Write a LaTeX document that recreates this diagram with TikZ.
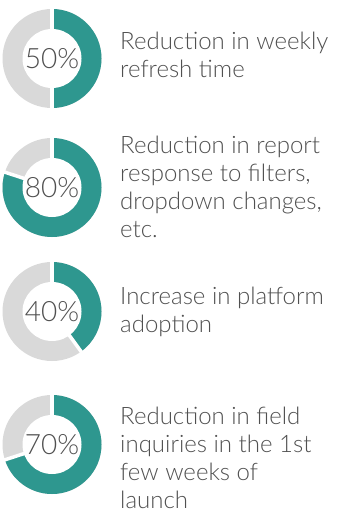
\documentclass[tikz,border=0pt]{standalone}
\usepackage{fontspec}
\setmainfont{Lato Light}
\definecolor{ringteal}{HTML}{2E978F}
\definecolor{ringgray}{HTML}{D9D9D9}
\definecolor{txtgray}{HTML}{505050}
\begin{document}
\begin{tikzpicture}[x=1pt,y=1pt,
  gapline/.style={draw=white,line width=3.5pt},
  pct/.style={text=txtgray,font=\fontsize{28}{30}\selectfont,inner sep=0pt},
  desc/.style={text=txtgray,font=\fontsize{24}{28}\selectfont,align=left,anchor=base west,inner sep=0pt}]
\useasboundingbox[fill=white] (0,0) rectangle (340,-513);
\newcommand{\donut}[3]{% name, center, end angle
  \coordinate (#1) at #2;
  \fill[ringgray] (#1) circle[radius=49.5];
  \fill[ringteal] (#1) -- ++(90:49.5) arc[start angle=90, end angle=#3, radius=49.5] -- cycle;
  \fill[white] (#1) circle[radius=29.5];
  \draw[gapline] (#1) -- ++(90:52);
  \draw[gapline] (#1) -- ++(#3:52);
}
\donut{d1}{(52,-58.5)}{-90}
\donut{d2}{(52,-187.5)}{-198}
\donut{d3}{(52,-311.5)}{-54}
\donut{d4}{(52,-444.5)}{-162}
\node[pct] (p1) at (d1) {50\%};
\node[pct] (p2) at (d2) {80\%};
\node[pct] (p3) at (d3) {40\%};
\node[pct] (p4) at (d4) {70\%};
\node[desc] (t1) at (120,-77.5) {Reduction in weekly\\refresh time};
\node[desc] (t2) at (120,-237) {Reduction in report\\response to filters,\\dropdown changes,\\etc.};
\node[desc] (t3) at (120,-332.5) {Increase in platform\\adoption};
\node[desc] (t4) at (120,-508.5) {Reduction in field\\inquiries in the 1st\\few weeks of\\launch};
\end{tikzpicture}
\end{document}
